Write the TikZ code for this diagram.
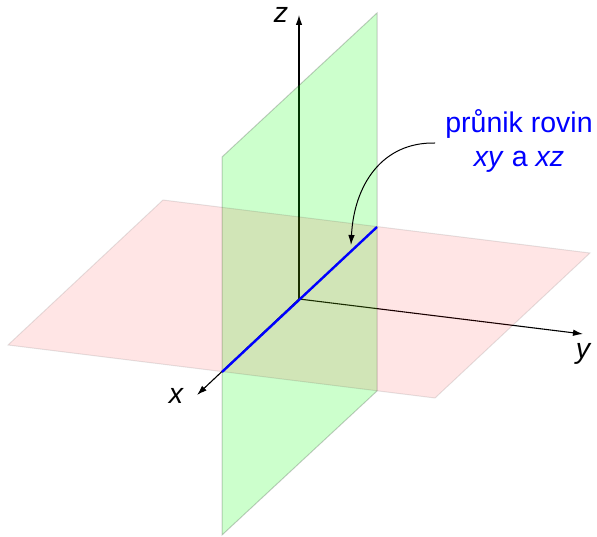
\documentclass[tikz,border=0pt]{standalone}
\usepackage{fontspec}
\setmainfont{Liberation Sans}
\usetikzlibrary{arrows.meta}
\begin{document}
\begin{tikzpicture}[x=1pt,y=-1pt,
  axis/.style={line width=1.1pt,-{Latex[length=10pt,width=6.5pt]}},
  plane/.style={draw=black,line width=1pt},
  lbl/.style={font=\fontsize{28.5}{34}\selectfont},
  note/.style={lbl,text=blue,anchor=base,inner sep=0pt}]
\useasboundingbox (0,0) rectangle (597,537);
\coordinate (O) at (299,299);
\coordinate (X) at (197,395);
\coordinate (Y) at (583,334);
\coordinate (Z) at (299,15);
% axes (below the translucent planes)
\draw[axis] (O) -- (X);
\draw[axis] (O) -- (Y);
\draw[axis] (O) -- (Z);
% xz plane
\fill[plane,fill=green,opacity=0.2] (222,157) -- (377,13) -- (377,391) -- (222,535) -- cycle;
% xy plane
\fill[plane,fill=red,opacity=0.1] (8,345) -- (163,200) -- (590,253) -- (435,398) -- cycle;
% intersection line
\coordinate (B1) at (222,372);
\coordinate (B2) at (377,227);
\draw[blue,line width=2.4pt] (B1) -- (B2);
% labels
\node[lbl,font=\fontsize{28.5}{34}\selectfont\itshape] (zl) at (281,15) {z};
\node[lbl,font=\fontsize{28.5}{34}\selectfont\itshape] (xl) at (176,396) {x};
\node[lbl,font=\fontsize{28.5}{34}\selectfont\itshape] (yl) at (583,354) {y};
\node[note] (n1) at (519,133) {průnik rovin};
\node[note] (n2) at (519,167) {\textit{xy} a \textit{xz}};
\coordinate (As) at (435,143);
\coordinate (Ae) at (351,245);
\draw[line width=1pt,-{Latex[length=10pt,width=6.5pt]}] (As) .. controls (382,142) and (354,185) .. (Ae);
\end{tikzpicture}
\end{document}
